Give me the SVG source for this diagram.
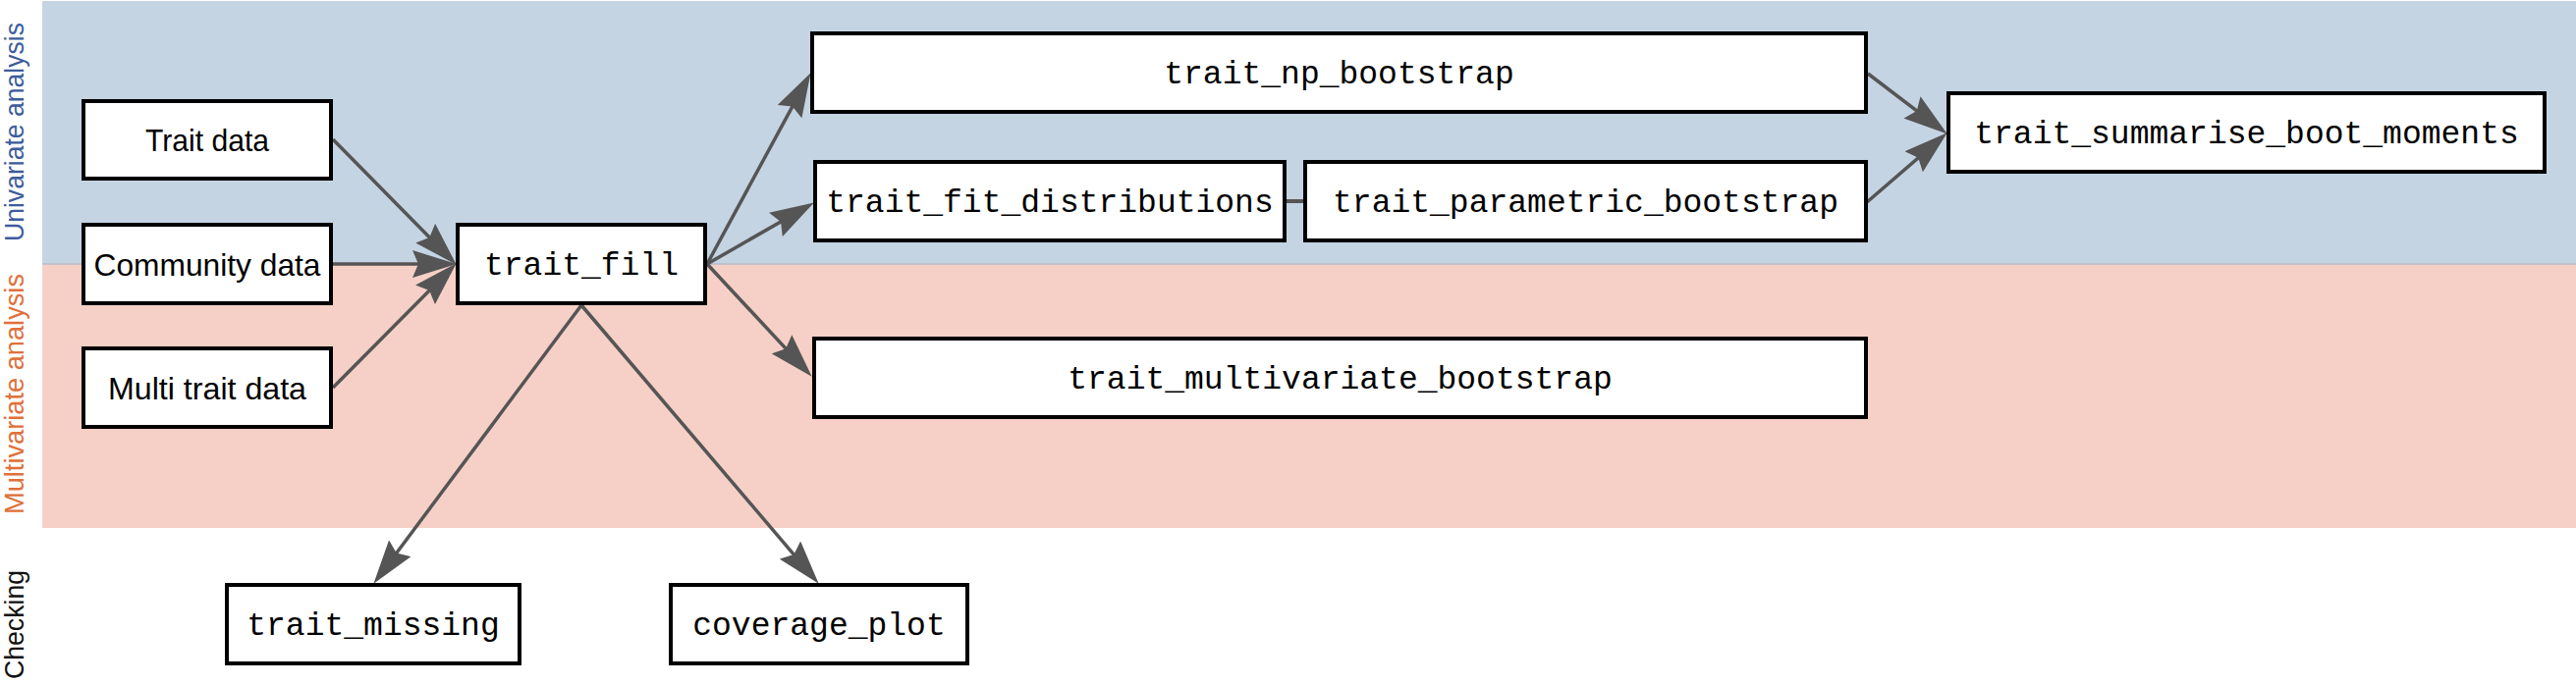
<svg xmlns="http://www.w3.org/2000/svg" width="2623" height="698" viewBox="0 0 2623 698">
<style>
.box{fill:#ffffff;stroke:#000000;stroke-width:4}
.sans{font-family:"Liberation Sans",Arial,sans-serif;font-size:32px;fill:#000;text-anchor:middle}
.mono{font-family:"Liberation Mono","DejaVu Sans Mono",monospace;font-size:33px;fill:#000;text-anchor:middle}
.lane{font-family:"Liberation Sans",Arial,sans-serif;font-size:28px;text-anchor:middle}
.edge{fill:none;stroke:#555555;stroke-width:3.5}
</style>
<defs>
<marker id="ah" markerUnits="userSpaceOnUse" markerWidth="46" markerHeight="28" refX="24" refY="14" orient="auto" viewBox="0 0 46 28">
<path d="M0,0 L45,14 L0,28 L6,14 Z" fill="#555555"/>
</marker>
</defs>
<g id="lanes">
<rect x="43" y="1" width="2580" height="268" fill="#c5d4e3"/>
<rect x="43" y="269" width="2580" height="269" fill="#f6d0c6"/>
<line x1="43" y1="269" x2="2623" y2="269" stroke="#b8bcc6" stroke-width="1.5"/>
<text class="lane" fill="#3d5c9c" transform="translate(24,134.5) rotate(-90)" textLength="223" lengthAdjust="spacingAndGlyphs">Univariate analysis</text>
<text class="lane" fill="#e0703a" transform="translate(24,401.5) rotate(-90)" textLength="245" lengthAdjust="spacingAndGlyphs">Multivariate analysis</text>
<text class="lane" fill="#111111" transform="translate(24,636.5) rotate(-90)" textLength="111" lengthAdjust="spacingAndGlyphs">Checking</text>
</g>
<g id="connectors">
<line class="edge" x1="339" y1="142" x2="449.97" y2="254.75" marker-end="url(#ah)"/>
<line class="edge" x1="339" y1="269" x2="444" y2="269" marker-end="url(#ah)"/>
<line class="edge" x1="339" y1="395" x2="449.9" y2="283.2" marker-end="url(#ah)"/>
<line class="edge" x1="720" y1="269" x2="815.5" y2="92.6" marker-end="url(#ah)"/>
<line class="edge" x1="720" y1="269" x2="810.65" y2="216.96" marker-end="url(#ah)"/>
<line class="edge" x1="720" y1="269" x2="812.4" y2="368.4" marker-end="url(#ah)"/>
<line class="edge" x1="592" y1="311" x2="392.95" y2="577.97" marker-end="url(#ah)"/>
<line class="edge" x1="592" y1="311" x2="820.03" y2="578.77" marker-end="url(#ah)"/>
<line class="edge" x1="1902" y1="75" x2="1966.1" y2="123.87" marker-end="url(#ah)"/>
<line class="edge" x1="1901" y1="206" x2="1966.87" y2="149.08" marker-end="url(#ah)"/>
<line x1="1308" y1="205" x2="1329" y2="205" stroke="#555555" stroke-width="4"/>
</g>
<g id="trait_data"><rect class="box" x="85" y="103" width="252" height="79"/><text class="sans" x="211" y="154" textLength="126" lengthAdjust="spacingAndGlyphs">Trait data</text></g>
<g id="community_data"><rect class="box" x="85" y="229" width="252" height="80"/><text class="sans" x="211" y="281" textLength="231" lengthAdjust="spacingAndGlyphs">Community data</text></g>
<g id="multi_trait_data"><rect class="box" x="85" y="355" width="252" height="80"/><text class="sans" x="211" y="407" textLength="202" lengthAdjust="spacingAndGlyphs">Multi trait data</text></g>
<g id="trait_fill"><rect class="box" x="466" y="229" width="252" height="80"/><text class="mono" x="592" y="280">trait_fill</text></g>
<g id="trait_np_bootstrap"><rect class="box" x="827" y="34" width="1073" height="80"/><text class="mono" x="1363.5" y="85">trait_np_bootstrap</text></g>
<g id="trait_fit_distributions"><rect class="box" x="830" y="165" width="478" height="80"/><text class="mono" x="1069" y="216">trait_fit_distributions</text></g>
<g id="trait_parametric_bootstrap"><rect class="box" x="1329" y="165" width="571" height="80"/><text class="mono" x="1614.5" y="216">trait_parametric_bootstrap</text></g>
<g id="trait_multivariate_bootstrap"><rect class="box" x="829" y="345" width="1071" height="80"/><text class="mono" x="1364.5" y="396">trait_multivariate_bootstrap</text></g>
<g id="trait_summarise_boot_moments"><rect class="box" x="1984" y="95" width="607" height="80"/><text class="mono" x="2287.5" y="146">trait_summarise_boot_moments</text></g>
<g id="trait_missing"><rect class="box" x="231" y="596" width="298" height="80"/><text class="mono" x="380" y="647">trait_missing</text></g>
<g id="coverage_plot"><rect class="box" x="683" y="596" width="302" height="80"/><text class="mono" x="834" y="647">coverage_plot</text></g>
</svg>
